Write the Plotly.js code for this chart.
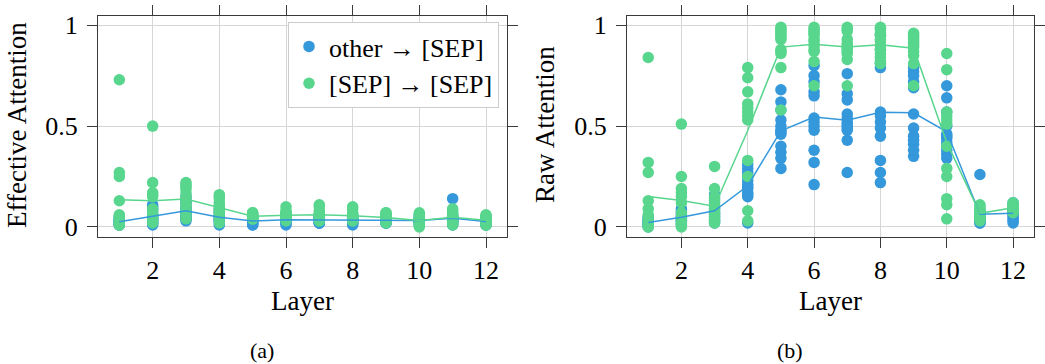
<!DOCTYPE html>
<html>
<head>
<meta charset="utf-8">
<script src="https://cdn.plot.ly/plotly-3.0.1.min.js"></script>
<style>html,body{margin:0;padding:0;background:#fff;}#chart{width:1045px;height:364px;}</style>
</head>
<body>
<div id="chart"></div>
<script>
// Layers (x categories)
const layers = [1, 2, 3, 4, 5, 6, 7, 8, 9, 10, 11, 12];
const xTicks = [2, 4, 6, 8, 10, 12];
const yTicks = [0, 0.5, 1];
const yTickText = ['0', '0.5', '1'];

// (a) Effective attention, one list of head values per layer
const effOther = [
  [0.05, 0.04, 0.04, 0.03, 0.03, 0.03, 0.02, 0.02, 0.02, 0.01, 0.01, 0.01],
  [0.11, 0.10, 0.09, 0.08, 0.06, 0.05, 0.04, 0.04, 0.03, 0.02, 0.02, 0.01],
  [0.15, 0.13, 0.12, 0.10, 0.09, 0.08, 0.07, 0.06, 0.05, 0.04, 0.04, 0.03],
  [0.09, 0.08, 0.07, 0.06, 0.05, 0.05, 0.04, 0.04, 0.03, 0.03, 0.02, 0.01],
  [0.05, 0.05, 0.04, 0.04, 0.03, 0.03, 0.03, 0.02, 0.02, 0.02, 0.01, 0.01],
  [0.06, 0.05, 0.05, 0.04, 0.04, 0.04, 0.03, 0.03, 0.03, 0.02, 0.02, 0.01],
  [0.06, 0.05, 0.05, 0.04, 0.04, 0.04, 0.03, 0.03, 0.02, 0.02, 0.02, 0.02],
  [0.06, 0.05, 0.05, 0.04, 0.04, 0.04, 0.03, 0.03, 0.02, 0.02, 0.02, 0.01],
  [0.06, 0.05, 0.05, 0.04, 0.04, 0.03, 0.03, 0.03, 0.03, 0.02, 0.02, 0.02],
  [0.06, 0.05, 0.04, 0.04, 0.03, 0.03, 0.03, 0.03, 0.02, 0.02, 0.02, 0.01],
  [0.14, 0.06, 0.05, 0.05, 0.04, 0.04, 0.03, 0.03, 0.03, 0.02, 0.02, 0.01],
  [0.05, 0.04, 0.04, 0.03, 0.03, 0.03, 0.02, 0.02, 0.02, 0.02, 0.01, 0.01]
];
const effSep = [
  [0.73, 0.27, 0.25, 0.13, 0.06, 0.05, 0.04, 0.03, 0.02, 0.02, 0.01, 0.01],
  [0.50, 0.22, 0.17, 0.16, 0.15, 0.09, 0.07, 0.06, 0.05, 0.04, 0.03, 0.02],
  [0.22, 0.21, 0.20, 0.19, 0.17, 0.15, 0.13, 0.11, 0.10, 0.08, 0.06, 0.04],
  [0.16, 0.15, 0.14, 0.12, 0.11, 0.10, 0.09, 0.08, 0.07, 0.06, 0.04, 0.02],
  [0.07, 0.07, 0.06, 0.06, 0.06, 0.05, 0.05, 0.05, 0.05, 0.04, 0.04, 0.04],
  [0.10, 0.08, 0.07, 0.07, 0.06, 0.06, 0.05, 0.05, 0.04, 0.04, 0.04, 0.03],
  [0.11, 0.10, 0.08, 0.07, 0.06, 0.06, 0.05, 0.05, 0.04, 0.04, 0.03, 0.03],
  [0.10, 0.09, 0.07, 0.06, 0.06, 0.05, 0.05, 0.04, 0.04, 0.04, 0.03, 0.03],
  [0.07, 0.07, 0.06, 0.06, 0.05, 0.05, 0.04, 0.04, 0.04, 0.03, 0.03, 0.02],
  [0.07, 0.06, 0.05, 0.04, 0.04, 0.03, 0.03, 0.02, 0.02, 0.01, 0.01, 0.00],
  [0.09, 0.08, 0.07, 0.06, 0.05, 0.05, 0.04, 0.04, 0.03, 0.03, 0.02, 0.01],
  [0.06, 0.05, 0.05, 0.04, 0.04, 0.03, 0.03, 0.03, 0.02, 0.02, 0.01, 0.01]
];

// (b) Raw attention, one list of head values per layer
const rawOther = [
  [0.05, 0.04, 0.035, 0.03, 0.025, 0.02, 0.02, 0.015, 0.01, 0.01, 0.005, 0.00],
  [0.09, 0.08, 0.07, 0.06, 0.05, 0.05, 0.04, 0.04, 0.03, 0.03, 0.02, 0.01],
  [0.16, 0.14, 0.12, 0.10, 0.09, 0.08, 0.07, 0.06, 0.05, 0.04, 0.03, 0.02],
  [0.31, 0.29, 0.27, 0.25, 0.23, 0.21, 0.20, 0.19, 0.17, 0.16, 0.15, 0.02],
  [0.68, 0.62, 0.58, 0.53, 0.50, 0.47, 0.48, 0.46, 0.40, 0.37, 0.34, 0.29],
  [0.80, 0.75, 0.72, 0.67, 0.65, 0.54, 0.52, 0.50, 0.48, 0.38, 0.32, 0.21],
  [0.76, 0.66, 0.63, 0.56, 0.54, 0.52, 0.51, 0.50, 0.49, 0.48, 0.43, 0.27],
  [0.95, 0.88, 0.81, 0.79, 0.57, 0.55, 0.52, 0.49, 0.45, 0.33, 0.27, 0.22],
  [0.79, 0.77, 0.75, 0.72, 0.69, 0.56, 0.49, 0.45, 0.43, 0.41, 0.38, 0.35],
  [0.70, 0.64, 0.57, 0.50, 0.46, 0.45, 0.44, 0.42, 0.40, 0.38, 0.36, 0.34],
  [0.26, 0.08, 0.07, 0.06, 0.05, 0.05, 0.04, 0.04, 0.03, 0.03, 0.02, 0.02],
  [0.12, 0.10, 0.09, 0.08, 0.08, 0.07, 0.07, 0.06, 0.05, 0.04, 0.03, 0.02]
];
const rawSep = [
  [0.84, 0.32, 0.27, 0.13, 0.09, 0.06, 0.04, 0.03, 0.02, 0.01, 0.005, 0.00],
  [0.51, 0.25, 0.19, 0.17, 0.15, 0.12, 0.07, 0.05, 0.03, 0.02, 0.01, 0.00],
  [0.30, 0.19, 0.15, 0.13, 0.11, 0.09, 0.07, 0.06, 0.05, 0.03, 0.02, 0.03],
  [0.79, 0.74, 0.67, 0.61, 0.59, 0.57, 0.55, 0.53, 0.33, 0.25, 0.08, 0.03],
  [0.99, 0.98, 0.97, 0.96, 0.95, 0.94, 0.93, 0.88, 0.87, 0.86, 0.79, 0.58],
  [0.99, 0.98, 0.97, 0.96, 0.95, 0.93, 0.92, 0.90, 0.88, 0.87, 0.82, 0.70],
  [0.99, 0.98, 0.97, 0.93, 0.90, 0.88, 0.91, 0.89, 0.87, 0.86, 0.83, 0.70],
  [0.99, 0.98, 0.96, 0.95, 0.93, 0.92, 0.90, 0.88, 0.86, 0.84, 0.82, 0.81],
  [0.96, 0.95, 0.94, 0.93, 0.92, 0.91, 0.90, 0.89, 0.87, 0.85, 0.81, 0.70],
  [0.86, 0.78, 0.57, 0.55, 0.53, 0.51, 0.40, 0.29, 0.25, 0.14, 0.11, 0.04],
  [0.11, 0.10, 0.09, 0.08, 0.07, 0.07, 0.06, 0.06, 0.05, 0.05, 0.04, 0.03],
  [0.12, 0.11, 0.11, 0.10, 0.10, 0.10, 0.09, 0.09, 0.09, 0.08, 0.08, 0.07]
];

const seriesNames = ['other \u2192 [SEP]', '[SEP] \u2192 [SEP]'];
const axisTitles = { x: 'Layer', yLeft: 'Effective Attention', yRight: 'Raw Attention' };
const captions = ['(a)', '(b)'];
const blue = '#3498db';
const green = '#58d68d';

function flatX(groups) { const o = []; groups.forEach((g, i) => g.forEach(() => o.push(layers[i]))); return o; }
function flatY(groups) { const o = []; groups.forEach(g => g.forEach(v => o.push(v))); return o; }
function means(groups) { return groups.map(g => g.reduce((a, b) => a + b, 0) / g.length); }

function pts(groups, name, color, xa, ya, showleg) {
  return { type: 'scatter', mode: 'markers', x: flatX(groups), y: flatY(groups), name: name,
    marker: { color: color, size: 11.5, line: { width: 0 } }, xaxis: xa, yaxis: ya,
    showlegend: showleg, hoverinfo: 'x+y' };
}
function meanLine(groups, name, color, xa, ya) {
  return { type: 'scatter', mode: 'lines', x: layers, y: means(groups), name: name + ' (mean)',
    line: { color: color, width: 1.5 }, xaxis: xa, yaxis: ya, showlegend: false, hoverinfo: 'skip' };
}

const data = [
  pts(effOther, seriesNames[0], blue, 'x', 'y', true),
  pts(effSep, seriesNames[1], green, 'x', 'y', true),
  meanLine(effOther, seriesNames[0], blue, 'x', 'y'),
  meanLine(effSep, seriesNames[1], green, 'x', 'y'),
  pts(rawOther, seriesNames[0], blue, 'x2', 'y2', false),
  pts(rawSep, seriesNames[1], green, 'x2', 'y2', false),
  meanLine(rawOther, seriesNames[0], blue, 'x2', 'y2'),
  meanLine(rawSep, seriesNames[1], green, 'x2', 'y2')
];

const W = 1045, H = 364;
const fontFam = '"Liberation Serif", "Times New Roman", serif';
const frame = '#3a3a3a';
function xax(domain, anchor) {
  return { domain: domain, anchor: anchor, range: [0.36, 12.63], tickvals: xTicks, ticks: 'outside', ticklen: 10,
    tickcolor: frame, tickwidth: 1, showline: true, mirror: 'ticks', linecolor: frame, linewidth: 1,
    showgrid: true, gridcolor: '#d6d6d6', gridwidth: 1, zeroline: false, tickfont: { size: 26 } };
}
function yax(domain, anchor) {
  return { domain: domain, anchor: anchor, range: [-0.05, 1.046], tickvals: yTicks, ticktext: yTickText,
    ticks: 'outside', ticklen: 10, tickcolor: frame, tickwidth: 1, showline: true, mirror: 'ticks',
    linecolor: frame, linewidth: 1, showgrid: true, gridcolor: '#d6d6d6', gridwidth: 1, zeroline: false,
    tickfont: { size: 26 }, ticklabelstandoff: 4 };
}
const yDom = [1 - 237 / H, 1 - 16 / H];
function pap(px, py, text, size, angle) {
  return { text: text, xref: 'paper', yref: 'paper', x: px / W, y: 1 - py / H, xanchor: 'center', yanchor: 'middle',
    showarrow: false, textangle: angle || 0, font: { size: size } };
}
function caption(px, text) {
  return { text: text, xref: 'paper', yref: 'paper', x: px / W, y: 0, xanchor: 'center', yanchor: 'bottom',
    showarrow: false, borderpad: 0, font: { size: 22 } };
}
const layout = {
  width: W, height: H, margin: { l: 0, r: 0, t: 0, b: 0 },
  paper_bgcolor: '#fff', plot_bgcolor: '#fff',
  font: { family: fontFam, size: 26, color: '#000' },
  xaxis: xax([98 / W, 507 / W], 'y'),
  yaxis: yax(yDom, 'x'),
  xaxis2: xax([627 / W, 1034 / W], 'y2'),
  yaxis2: yax(yDom, 'x2'),
  legend: { x: 499 / W, y: 1 - 22 / H, xanchor: 'right', yanchor: 'top', bgcolor: '#fff',
    bordercolor: '#cccccc', borderwidth: 1, font: { size: 26 }, tracegroupgap: 0, traceorder: 'normal' },
  annotations: [
    pap(302, 301, axisTitles.x, 27),
    pap(830, 301, axisTitles.x, 27),
    pap(17, 125, axisTitles.yLeft, 27, -90),
    pap(545, 125, axisTitles.yRight, 27, -90),
    caption(262, captions[0]),
    caption(790, captions[1])
  ],
  hovermode: false
};
Plotly.newPlot('chart', data, layout, { displayModeBar: false, staticPlot: true });
</script>
</body>
</html>
